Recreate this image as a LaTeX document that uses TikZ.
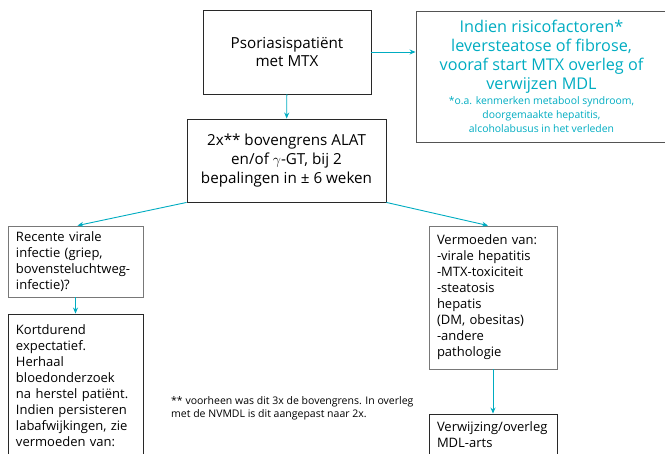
\documentclass[tikz,border=0pt]{standalone}
\usepackage{fontspec}
\setmainfont{Open Sans}
\usetikzlibrary{arrows.meta}
\definecolor{tealtext}{RGB}{0,172,193}
\definecolor{darkline}{RGB}{40,40,40}
\definecolor{greyline}{RGB}{120,120,120}
\newcommand{\smalltxt}{\fontsize{10.4}{14}\selectfont}
\begin{document}
\begin{tikzpicture}[
    x=1pt, y=-1pt,
    box/.style={rectangle, draw=darkline, line width=0.9pt, inner sep=0pt, align=center, font=\fontsize{15.2}{19}\selectfont},
    lbox/.style={rectangle, draw=darkline, line width=0.9pt, inner xsep=8pt, inner ysep=0pt, align=left, anchor=center, font=\fontsize{13}{16}\selectfont},
    gbox/.style={lbox, draw=greyline},
    arrow/.style={-{Stealth[length=6pt,width=5pt]}, draw=tealtext, line width=0.9pt}
]
\useasboundingbox (0,0) rectangle (665,454);

% Top row
\node[box, minimum width=168pt, minimum height=84pt] (pat) at (287, 52) {Psoriasispatiënt\\met MTX};
\node[box, minimum width=251pt, minimum height=131pt, draw=greyline!70!black, text=tealtext, font=\fontsize{16.2}{19}\selectfont] (info) at (541.5, 76.5)
    {Indien risicofactoren*\\leversteatose of fibrose,\\vooraf start MTX overleg of\\verwijzen MDL\\[-4pt]
     \smalltxt *o.a. kenmerken metabool syndroom,\\[-5pt]\smalltxt doorgemaakte hepatitis,\\[-5pt]\smalltxt alcoholabusus in het verleden};

% Lab values
\node[box, minimum width=199pt, minimum height=83pt] (ltb) at (286.5, 160.5) {2x** bovengrens ALAT\\en/of $\gamma$-GT, bij 2\\bepalingen in ± 6 weken};

% Left branch
\node[gbox, text width=119pt, minimum height=71pt] (vir) at (75.5, 261.5) {Recente virale\\infectie (griep,\\bovensteluchtweg-\\infectie)?};
\node[lbox, text width=119pt, minimum height=144pt] (kort) at (75.5, 386) {Kortdurend\\expectatief.\\Herhaal\\bloedonderzoek\\na herstel patiënt.\\Indien persisteren\\labafwijkingen, zie\\vermoeden van:};

% Right branch
\node[gbox, text width=112pt, minimum height=143pt] (vd) at (493, 297.5) {Vermoeden van:\\-virale hepatitis\\-MTX-toxiciteit\\-steatosis\\hepatis\\(DM, obesitas)\\-andere\\pathologie};
\node[lbox, text width=112pt, minimum height=42pt] (mdl) at (493, 435) {Verwijzing/overleg\\MDL-arts};

% Footnote
\node[anchor=north west, align=left, inner sep=0pt, font=\fontsize{10.5}{13}\selectfont] (fn) at (171, 396)
    {** voorheen was dit 3x de bovengrens. In overleg\\met de NVMDL is dit aangepast naar 2x.};

% Arrows
\draw[arrow] (pat) -- (ltb);
\draw[arrow] (pat.east) -- (pat.east -| info.west);
\draw[arrow] (ltb.south west) -- ([xshift=2pt]vir.north);
\draw[arrow] (ltb.south east) -- ([xshift=-5pt]vd.north);
\draw[arrow] (vir) -- (kort);
\draw[arrow] (vd) -- (mdl);

\end{tikzpicture}
\end{document}
